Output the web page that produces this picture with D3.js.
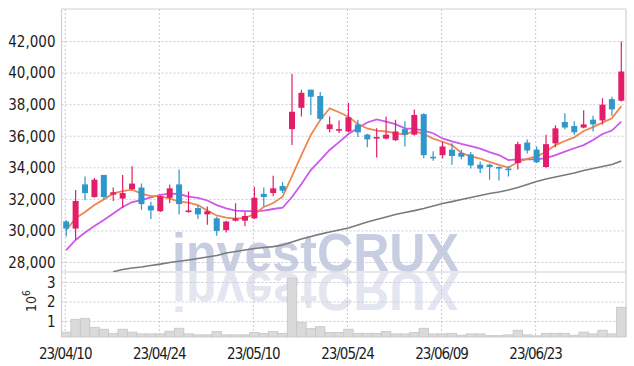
<!DOCTYPE html>
<html>
<head>
<meta charset="utf-8">
<script src="https://cdn.jsdelivr.net/npm/d3@7"></script>
<style>
  body { margin: 0; background: #fff; }
  svg { display: block; }
  .axis text { font-family: "Liberation Sans Narrow", "DejaVu Sans Condensed", "Roboto", sans-serif; font-size: 15px; fill: #1c1c1c; }
  .xaxis text { letter-spacing: -1px; }
  .grid line { stroke: #c9c9d9; stroke-dasharray: 2,2; stroke-width: 1; }
  .watermark { font-family: "Liberation Sans", Arial, sans-serif; font-weight: bold; font-size: 54px; }
</style>
</head>
<body>
<svg id="chart" width="634" height="366"></svg>
<script>
// Daily candles, Korean trading days 2023/04/10 - 2023/07/06
const dates = [
  '23/04/10','23/04/11','23/04/12','23/04/13','23/04/14','23/04/17','23/04/18','23/04/19','23/04/20','23/04/21',
  '23/04/24','23/04/25','23/04/26','23/04/27','23/04/28','23/05/02','23/05/03','23/05/04','23/05/08','23/05/09',
  '23/05/10','23/05/11','23/05/12','23/05/15','23/05/16','23/05/17','23/05/18','23/05/19','23/05/22','23/05/23',
  '23/05/24','23/05/25','23/05/26','23/05/30','23/05/31','23/06/01','23/06/02','23/06/05','23/06/07','23/06/08',
  '23/06/09','23/06/12','23/06/13','23/06/14','23/06/15','23/06/16','23/06/19','23/06/20','23/06/21','23/06/22',
  '23/06/23','23/06/26','23/06/27','23/06/28','23/06/29','23/06/30','23/07/03','23/07/04','23/07/05','23/07/06'
];

const open = [
  30600,30150,32950,32150,33550,32300,32050,32650,32750,31600,
  31250,32100,32950,31200,31450,31050,30800,30050,30650,30650,
  30800,32350,32400,32850,36450,37800,38950,38550,36450,36350,
  36300,36750,36100,35850,35850,35750,36450,36100,37400,34700,
  34800,35150,34950,34850,34200,34200,34050,33950,34300,35600,
  35150,34050,35550,36900,36650,36550,37050,37000,38350,38250
];
const high = [
  30700,32600,33450,33350,33550,32750,33550,34100,33000,31850,
  32250,32950,33900,32500,31650,31550,30900,30650,31750,31200,
  32800,32750,33500,33100,39950,38950,38950,38800,37250,37000,
  38100,37050,36150,36500,37250,37050,36950,37700,37450,35050,
  35650,35550,35150,35000,34400,34250,34100,34100,35650,35800,
  35350,36100,36700,37450,36950,37650,37300,38400,38500,42000
];
const low = [
  29650,29450,31950,32100,32000,31900,31450,32600,31350,30750,
  31200,31750,31050,31150,30750,30400,29700,29900,30600,30300,
  30750,31550,32200,32400,35450,37250,37350,37050,36250,36200,
  36250,35950,35300,34650,35800,35700,35350,36050,34600,34450,
  34600,34200,34550,33950,33650,33250,33200,33450,33900,34900,
  34300,34000,35300,36450,36100,36500,36300,36750,37300,38200
];
const close = [
  30150,31900,32400,33250,32150,32450,32400,33000,31700,31300,
  32200,32700,31700,31300,31050,31250,30000,30600,30800,30950,
  32100,32150,32700,32550,37550,38750,38500,37100,36750,36450,
  37200,36250,35800,35950,36100,36300,36100,37350,34800,34600,
  35350,34750,34700,34150,33950,34050,33950,33850,35500,35100,
  34350,35500,36500,36550,36250,36750,36750,38000,37700,40100
];
// volume in millions of shares
const volume = [
  0.45,1.11,1.16,0.70,0.60,0.39,0.60,0.45,0.36,0.36,
  0.36,0.50,0.65,0.36,0.31,0.31,0.48,0.31,0.31,0.31,
  0.43,0.39,0.48,0.39,3.22,0.94,0.63,0.73,0.43,0.43,
  0.60,0.39,0.39,0.39,0.48,0.36,0.36,0.43,0.65,0.36,
  0.36,0.39,0.29,0.36,0.36,0.27,0.27,0.31,0.55,0.31,
  0.26,0.39,0.39,0.39,0.29,0.45,0.36,0.55,0.36,1.73
];
// moving averages
const ma5 = [
  30060,30800,31200,31640,32000,32380,32530,32620,32370,32210,
  32210,32050,31860,31790,31640,31290,30980,30840,30780,30820,
  31070,31520,31770,32170,33480,34810,36080,37030,37770,37520,
  37240,36770,36490,36360,36300,36200,36110,36330,36140,35850,
  35650,35440,34940,34720,34590,34370,34180,34020,34370,34560,
  34720,35020,35440,35700,35930,36330,36580,36860,37140,37910
];
const ma25 = [
  28790,29430,29900,30310,30690,31100,31520,31830,31960,32120,
  32280,32370,32340,32180,32090,31930,31640,31430,31290,31260,
  31250,31290,31390,31470,32150,32970,33860,34490,35130,35630,
  36140,36520,36870,37070,36930,36770,36500,36460,36360,36190,
  35860,35670,35510,35380,35220,35000,34810,34490,34530,34540,
  34540,34620,34810,35020,35240,35440,35760,36140,36360,36920
];
const ma75 = [
  null,null,null,null,null,27420,27560,27650,27720,27810,
  27900,28000,28080,28160,28250,28350,28440,28600,28700,28790,
  28890,28950,29010,29110,29300,29490,29650,29800,29930,30060,
  30190,30380,30570,30720,30880,31040,31170,31290,31420,31580,
  31740,31860,31990,32120,32250,32370,32470,32590,32750,32940,
  33130,33290,33420,33540,33670,33830,33960,34080,34210,34430
];

const priceTicks = [28000, 30000, 32000, 34000, 36000, 38000, 40000, 42000];
const volTicks = [1, 2, 3];
const dateTicks = ['23/04/10','23/04/24','23/05/10','23/05/24','23/06/09','23/06/23'];

const svg = d3.select('#chart');
const left = 61.5, right = 626;
const priceTop = 9, priceBottom = 272, volBottom = 337;

const x = d3.scaleBand().domain(dates).range([left, right]);
const cx = d => x(d) + x.bandwidth() / 2;

const y = d3.scaleLinear().domain([27400, 44060]).range([priceBottom, priceTop]);
const yv = d3.scaleLinear().domain([0.2, 3.54]).range([volBottom, priceBottom]);

const UP = '#e31d69', DOWN = '#2f97c9';

// watermark + reflection
const wm = svg.append('g');
wm.append('text')
  .attr('class', 'watermark')
  .attr('x', 172).attr('y', priceBottom - 1)
  .attr('textLength', 287).attr('lengthAdjust', 'spacingAndGlyphs')
  .attr('fill', '#c8cee2')
  .text('investCRUX');
wm.append('text')
  .attr('class', 'watermark')
  .attr('x', 172).attr('y', priceBottom - 1)
  .attr('textLength', 287).attr('lengthAdjust', 'spacingAndGlyphs')
  .attr('transform', `translate(0,${2 * priceBottom}) scale(1,-1)`)
  .attr('fill', '#e3e6f0')
  .text('investCRUX');

// grids
const grid = svg.append('g').attr('class', 'grid');
grid.selectAll('.hp').data(priceTicks).join('line')
  .attr('x1', left).attr('x2', right)
  .attr('y1', d => y(d)).attr('y2', d => y(d));
grid.selectAll('.hv').data(volTicks).join('line')
  .attr('class', 'hv')
  .attr('x1', left).attr('x2', right)
  .attr('y1', d => yv(d)).attr('y2', d => yv(d));
grid.selectAll('.vx').data(dateTicks).join('line')
  .attr('class', 'vx')
  .attr('x1', d => cx(d) - 1).attr('x2', d => cx(d) - 1)
  .attr('y1', priceTop).attr('y2', volBottom);

// volume bars
svg.append('g').selectAll('rect').data(dates).join('rect')
  .attr('x', d => x(d))
  .attr('width', x.bandwidth())
  .attr('y', (d, i) => yv(volume[i]))
  .attr('height', (d, i) => volBottom - yv(volume[i]))
  .attr('fill', '#dadada')
  .attr('stroke', '#c6c6c6')
  .attr('stroke-width', 0.8);

// frame
const frame = svg.append('g').attr('stroke', '#cfcfcf').attr('stroke-width', 1.2);
frame.append('line').attr('x1', left).attr('x2', right).attr('y1', priceTop).attr('y2', priceTop);
frame.append('line').attr('x1', left).attr('x2', left).attr('y1', priceTop).attr('y2', volBottom);
frame.append('line').attr('x1', right).attr('x2', right).attr('y1', priceTop).attr('y2', volBottom);
frame.append('line').attr('x1', left).attr('x2', right).attr('y1', priceBottom).attr('y2', priceBottom);

// clip for price panel
svg.append('clipPath').attr('id', 'price-clip')
  .append('rect').attr('x', left).attr('y', priceTop)
  .attr('width', right - left).attr('height', priceBottom - priceTop);

const plot = svg.append('g').attr('clip-path', 'url(#price-clip)');

// moving averages
const maLine = arr => d3.line()
  .defined((d, i) => arr[i] != null)
  .x(d => cx(d))
  .y((d, i) => y(arr[i]));

plot.append('path').datum(dates)
  .attr('fill', 'none').attr('stroke', '#7a7a7a').attr('stroke-width', 1.6)
  .attr('d', maLine(ma75));
plot.append('path').datum(dates)
  .attr('fill', 'none').attr('stroke', '#cc58ec').attr('stroke-width', 1.8)
  .attr('d', maLine(ma25));
plot.append('path').datum(dates)
  .attr('fill', 'none').attr('stroke', '#ef8650').attr('stroke-width', 1.8)
  .attr('d', maLine(ma5));

// candles
const candle = plot.selectAll('.candle').data(dates).join('g').attr('class', 'candle')
  .attr('fill', (d, i) => close[i] >= open[i] ? UP : DOWN)
  .attr('stroke', (d, i) => close[i] >= open[i] ? UP : DOWN);

candle.append('line')
  .attr('x1', d => cx(d)).attr('x2', d => cx(d))
  .attr('y1', (d, i) => y(high[i])).attr('y2', (d, i) => y(low[i]))
  .attr('stroke-width', 1.2);

candle.append('rect')
  .attr('x', d => cx(d) - 3)
  .attr('width', 6)
  .attr('y', (d, i) => y(Math.max(open[i], close[i])))
  .attr('height', (d, i) => Math.max(1, Math.abs(y(open[i]) - y(close[i]))))
  .attr('stroke', 'none');

// axes
const yAxis = d3.axisLeft(y).tickValues(priceTicks).tickSize(0).tickPadding(6)
  .tickFormat(d3.format(','));
svg.append('g').attr('class', 'axis')
  .attr('transform', `translate(${left},0)`)
  .call(yAxis)
  .call(g => g.select('.domain').remove());

const vAxis = d3.axisLeft(yv).tickValues(volTicks).tickSize(0).tickPadding(6)
  .tickFormat(d3.format('d'));
svg.append('g').attr('class', 'axis')
  .attr('transform', `translate(${left},0)`)
  .call(vAxis)
  .call(g => g.select('.domain').remove());

const xAxis = d3.axisBottom(x).tickValues(dateTicks).tickSize(0).tickPadding(11);
svg.append('g').attr('class', 'axis xaxis')
  .attr('transform', `translate(-1,${volBottom})`)
  .call(xAxis)
  .call(g => g.select('.domain').remove());

// 10^6 unit label
const unit = svg.append('text')
  .attr('transform', 'translate(36,312) rotate(-90)')
  .attr('font-family', '"Liberation Sans Narrow", "DejaVu Sans Condensed", sans-serif')
  .attr('font-size', 14)
  .attr('fill', '#262626');
unit.append('tspan').text('10');
unit.append('tspan').attr('dy', -6).attr('font-size', 10).text('6');
</script>
</body>
</html>
